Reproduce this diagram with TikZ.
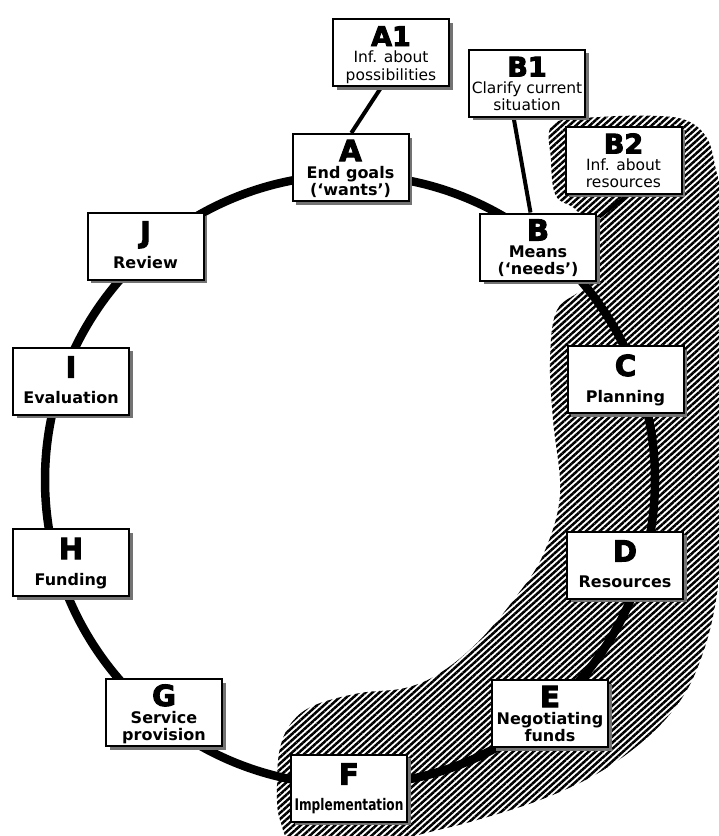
\documentclass[tikz,border=0pt]{standalone}
\usepackage{fontspec}
\usepackage{graphicx}
\setmainfont{DejaVu Sans}
\newfontface\heavyfont{DejaVu Sans Bold}[FakeBold=3.5]
\usetikzlibrary{calc,shadows,patterns.meta,backgrounds}

\tikzset{
 box/.style={draw=black,line width=2pt,fill=white,minimum width=116pt,minimum height=67pt,inner sep=0pt,
   drop shadow={shadow xshift=3.5pt,shadow yshift=-3.5pt,fill=black!55,opacity=1}},
 bigletter/.style={anchor=base,inner sep=0pt,font=\heavyfont\fontsize{29}{29}\selectfont},
 infoletter/.style={anchor=base,inner sep=0pt,font=\heavyfont\fontsize{27}{27}\selectfont},
 boldtext/.style={anchor=base,inner sep=0pt,font=\bfseries\fontsize{16}{16}\selectfont},
 plaintext/.style={anchor=base,inner sep=0pt,font=\fontsize{15.5}{15.5}\selectfont},
 ring/.style={draw=black,line width=8.5pt},
 link/.style={draw=black,line width=4pt},
 hatch/.style={pattern={Lines[angle=42,distance=4.6pt,line width=2.5pt]},pattern color=black}
}

\newcommand\twobox[6]{%
  \node[box] (#1) at (#2,#3) {};
  \node[bigletter] (#1-k) at ($(#1.north)+(0,28)$) {#4};
  \node[boldtext] (#1-a) at ($(#1.north)+(0,45)$) {#5};
  \node[boldtext] (#1-b) at ($(#1.north)+(0,62)$) {#6};}
\newcommand\onebox[5]{%
  \node[box] (#1) at (#2,#3) {};
  \node[bigletter] (#1-k) at ($(#1.north)+(0,31)$) {#4};
  \node[boldtext] (#1-a) at ($(#1.north)+(0,57)$) {#5};}
\newcommand\infobox[6]{%
  \node[box] (#1) at (#2,#3) {};
  \node[infoletter] (#1-k) at ($(#1.north)+(0,28)$) {#4};
  \node[plaintext] (#1-a) at ($(#1.north)+(0,44.5)$) {#5};
  \node[plaintext] (#1-b) at ($(#1.north)+(0,62)$) {#6};}

\begin{document}
\begin{tikzpicture}[x=1pt,y=-1pt]
\useasboundingbox (0,0) rectangle (719,836);

\infobox{A1}{391}{52.5}{A1}{Inf. about}{possibilities}
\infobox{B1}{527}{83}{B1}{Clarify current}{situation}
\infobox{B2}{623.5}{160}{B2}{Inf. about}{resources}

\twobox{A}{350.5}{167.5}{A}{End goals}{(‘wants’)}
\twobox{B}{538}{247}{B}{Means}{(‘needs’)}
\onebox{C}{625.5}{379.5}{C}{Planning}
\onebox{D}{625}{565}{D}{Resources}
\twobox{E}{550}{713.5}{E}{Negotiating}{funds}
\onebox{F}{349}{788}{F}{\scalebox{0.76}[1]{Implementation}}
\twobox{G}{164}{712.5}{G}{Service}{provision}
\onebox{H}{71}{562.5}{H}{Funding}
\onebox{I}{71}{381}{I}{Evaluation}
\onebox{J}{145.5}{246}{J}{Review}

\begin{scope}[on background layer]
  \path[hatch] plot[smooth cycle, tension=0.6] coordinates {
    (553,124) (600,117) (660,116) (690,122) (708,140) (716,170) (724,210)
    (726,300) (726,450) (722,540) (716,600) (704,650) (684,695) (650,735)
    (600,772) (540,800) (470,822) (415,836) (380,850) (300,848) (280,820)
    (277,785) (280,748) (292,722) (315,705) (360,693) (405,688) (440,673)
    (478,642) (515,598) (543,555) (560,495) (553,420) (550,360) (557,310)
    (585,286) (594,250) (578,212) (556,196) (551,160)};
  \draw[ring] (350,480) circle [radius=305pt];
  \draw[link] ($(A1.south)+(-9.6,0)$) -- ($(A.north)+(0.8,0)$);
  \draw[link] ($(B1.south)+(-13.4,0)$) -- ($(B.north)+(-7.5,0)$);
  \draw[link,line width=3.5pt] ($(B2.south)+(5,0)$) -- ($(B.north east)+(0,6)$);
\end{scope}
\end{tikzpicture}
\end{document}
